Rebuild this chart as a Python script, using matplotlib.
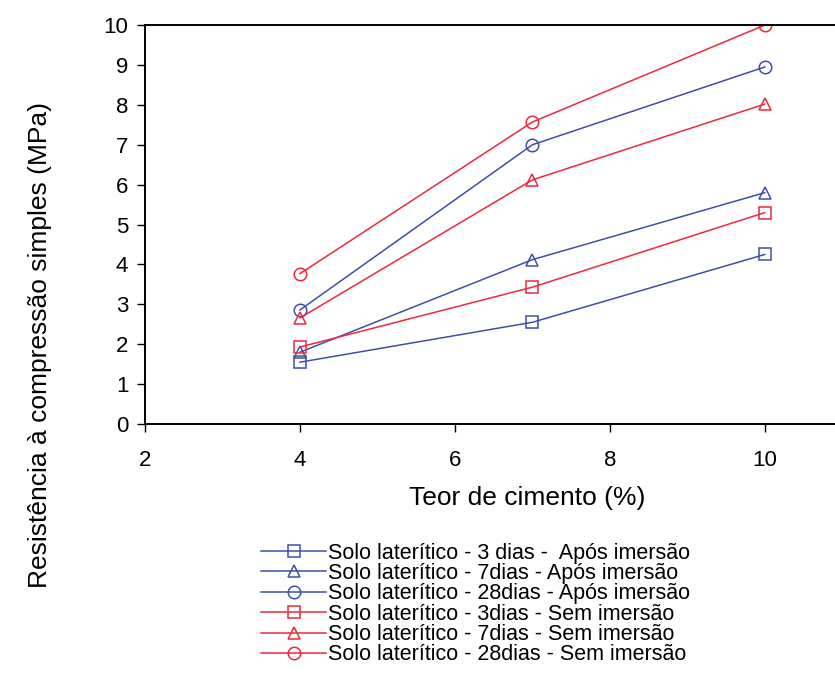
import matplotlib
matplotlib.use("Agg")
import matplotlib.pyplot as plt

plt.rcParams['font.family'] = ['Liberation Sans', 'DejaVu Sans']

# teor de cimento (%)
cimento = [4, 7, 10]

# resistencia (MPa)
apos_3d = [1.55, 2.55, 4.25]
apos_7d = [1.80, 4.12, 5.80]
apos_28d = [2.86, 7.0, 8.95]
sem_3d = [1.93, 3.43, 5.30]
sem_7d = [2.66, 6.12, 8.02]
sem_28d = [3.77, 7.57, 10.0]

labels = ["Solo laterítico - 3 dias -  Após imersão",
          "Solo laterítico - 7dias - Após imersão",
          "Solo laterítico - 28dias - Após imersão",
          "Solo laterítico - 3dias - Sem imersão",
          "Solo laterítico - 7dias - Sem imersão",
          "Solo laterítico - 28dias - Sem imersão"]

azul = "#3f4fa8"
vermelho = "#ec2a3c"

fig = plt.figure(figsize=(8.35, 6.89), dpi=100)
ax = fig.add_axes([0.1737, 0.3846, 0.835, 0.579])

series = [(apos_3d, azul, "s"), (apos_7d, azul, "^"), (apos_28d, azul, "o"),
          (sem_3d, vermelho, "s"), (sem_7d, vermelho, "^"), (sem_28d, vermelho, "o")]
for (vals, cor, mk), lab in zip(series, labels):
    ax.plot(cimento, vals, color=cor, lw=1.1, marker=mk, markersize=9,
            markerfacecolor="none", markeredgecolor=cor, markeredgewidth=1.1, label=lab)

ax.set_xlim(2, 11)
ax.set_ylim(0, 10)
ax.set_xticks([2, 4, 6, 8, 10])
ax.set_yticks(range(0, 11))
ax.tick_params(axis="both", direction="out", length=6, width=1)
ax.tick_params(axis="y", labelsize=16, pad=6)
ax.tick_params(axis="x", labelsize=16, pad=13)
for s in ["left", "bottom", "top"]:
    ax.spines[s].set_linewidth(1.4)
ax.spines["right"].set_visible(False)

ax.set_xlabel("Teor de cimento (%)", fontsize=19)
ax.xaxis.set_label_coords(0.548, -0.155)
fig.text(0.048, 0.50, "Resistência à compressão simples (MPa)", rotation=90,
         fontsize=19, ha="center", va="center")

leg = fig.legend(loc="upper left", bbox_to_anchor=(0.30, 0.228), frameon=False,
                 fontsize=15.5, handlelength=3.0, handletextpad=0.1, labelspacing=-0.03,
                 borderpad=0)

fig.savefig("out.png", dpi=100)
